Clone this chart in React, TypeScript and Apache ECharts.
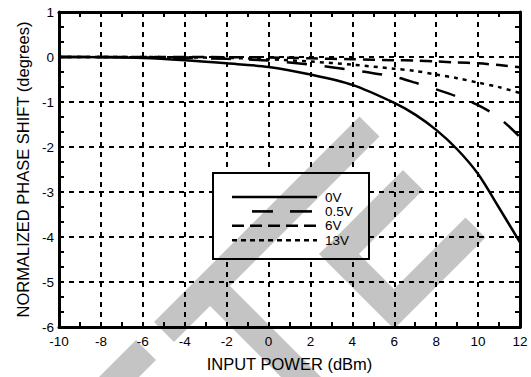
import React, { useEffect, useRef } from 'react';
import * as echarts from 'echarts';

// ---- data ----
const inputPower = [-10, -8, -6, -4, -2, 0, 2, 4, 6, 7, 8, 9, 10, 11, 12];
const shift0V = [0, -0.005, -0.02, -0.07, -0.14, -0.22, -0.39, -0.62, -1.02, -1.28, -1.62, -2.05, -2.6, -3.35, -4.12];
const shift05V = [0, 0, -0.01, -0.02, -0.04, -0.08, -0.17, -0.29, -0.44, -0.57, -0.72, -0.88, -1.07, -1.35, -1.78];
const shift6V = [0, 0, 0, 0, -0.005, -0.01, -0.03, -0.05, -0.07, -0.08, -0.1, -0.12, -0.14, -0.18, -0.23];
const shift13V = [0, 0, 0, -0.01, -0.02, -0.05, -0.1, -0.17, -0.26, -0.31, -0.39, -0.47, -0.57, -0.67, -0.8];
const seriesNames = ['0V', '0.5V', '6V', '13V'];
const seriesValues = [shift0V, shift05V, shift6V, shift13V];

const FONT = "'Liberation Sans', Arial, Helvetica, sans-serif";
const dashes: (number[] | 'solid')[] = ['solid', [20, 18], [12, 7], [4, 5]];

export default function App() {
  const ref = useRef<HTMLDivElement>(null);
  useEffect(() => {
    if (!ref.current) return;
    const chart = echarts.init(ref.current, null, { renderer: 'svg' });

    const tickStyle = { color: '#000', width: 2 };
    const axisLine = { show: true, onZero: false, lineStyle: { color: '#000', width: 3 } };
    const gridLine = { show: true, lineStyle: { color: '#000', width: 2, type: [5, 5] } };

    const xBase = {
      type: 'value', min: -10, max: 12, interval: 2,
      axisLine,
      axisTick: { show: true, inside: true, length: 5, lineStyle: tickStyle },
      minorTick: { show: true, splitNumber: 2, length: 5, lineStyle: tickStyle },
    };
    const yBase = {
      type: 'value', min: -6, max: 1, interval: 1,
      axisLine,
      axisTick: { show: true, inside: true, length: 5, lineStyle: tickStyle },
      minorTick: { show: true, splitNumber: 3, length: 5, lineStyle: tickStyle },
    };

    // legend (drawn as graphic, to match dash layout)
    const lx0 = 232, lx1 = 317, ly0 = 197, lstep = 14.4;
    const legendChildren: any[] = [
      { type: 'rect', z: 50, shape: { x: 213, y: 173, width: 156, height: 86 }, style: { fill: '#fff', stroke: '#000', lineWidth: 2 } },
    ];
    seriesNames.forEach((name, i) => {
      const y = ly0 + i * lstep;
      if (i === 1) {
        legendChildren.push({ type: 'line', z: 51, shape: { x1: 252, y1: y, x2: 273, y2: y }, style: { stroke: '#000', lineWidth: 2.6 } });
        legendChildren.push({ type: 'line', z: 51, shape: { x1: 290, y1: y, x2: 312, y2: y }, style: { stroke: '#000', lineWidth: 2.6 } });
      } else {
        const d = dashes[i];
        legendChildren.push({
          type: 'line', z: 51, shape: { x1: lx0, y1: y, x2: lx1, y2: y },
          style: { stroke: '#000', lineWidth: 2.6, lineDash: d === 'solid' ? null : (i === 2 ? [12, 6] : [5, 4]) },
        });
      }
      legendChildren.push({
        type: 'text', z: 52, x: 325, y,
        style: { text: name, fill: '#000', font: `13.5px ${FONT}`, verticalAlign: 'middle', align: 'left' },
      });
    });

    // watermark (multiply-like translucent black)
    const wm = { fill: '#000', opacity: 0.232 };
    const watermark = [
      { type: 'polygon', z: 100, silent: true, shape: { points: [[99, 377], [136, 340], [156, 360], [139, 377]] }, style: wm },
      { type: 'polygon', z: 100, silent: true, shape: { points: [[154, 322], [359.5, 116.5], [379.5, 136.5], [230, 286], [321, 377], [281, 377], [210, 306], [174, 342]] }, style: wm },
      { type: 'polygon', z: 100, silent: true, shape: { points: [[403, 170], [423, 190], [359, 254], [394, 289], [465.5, 217.5], [485.5, 237.5], [394, 329], [319, 254]] }, style: wm },
    ];

    const option: any = {
      animation: false,
      backgroundColor: '#fff',
      grid: { left: 59, right: 11, top: 12, bottom: 50, outerBoundsMode: 'none' },
      xAxis: [
        {
          ...xBase, position: 'bottom',
          name: 'INPUT POWER (dBm)', nameLocation: 'middle', nameGap: 28,
          nameTextStyle: { color: '#000', fontSize: 16.5, fontFamily: FONT },
          axisLabel: { color: '#000', fontSize: 13.5, fontFamily: FONT, margin: 7, showMinLabel: true, showMaxLabel: true },
          splitLine: gridLine,
        },
        {
          ...xBase, position: 'top', axisLabel: { show: false }, splitLine: { show: false },
        },
      ],
      yAxis: [
        {
          ...yBase, position: 'left',
          name: 'NORMALIZED PHASE SHIFT (degrees)', nameLocation: 'middle', nameGap: 27, nameRotate: 90,
          nameTextStyle: { color: '#000', fontSize: 16.5, fontFamily: FONT },
          axisLabel: { color: '#000', fontSize: 13.5, fontFamily: FONT, margin: 5, showMinLabel: true, showMaxLabel: true },
          splitLine: gridLine,
        },
        {
          ...yBase, position: 'right', axisLabel: { show: false }, splitLine: { show: false },
        },
      ],
      series: seriesNames.map((name, i) => ({
        name, type: 'line', xAxisIndex: 0, yAxisIndex: 0,
        data: inputPower.map((x, k) => [x, seriesValues[i][k]]),
        smooth: 0.3, symbol: 'none', showSymbol: false, silent: true, z: 3,
        lineStyle: { color: '#000', width: 2.5, type: dashes[i] },
      })),
      graphic: [...legendChildren, ...watermark],
    };
    chart.setOption(option);
    return () => chart.dispose();
  }, []);
  return <div ref={ref} style={{ position: 'fixed', left: 0, top: 0, width: 531, height: 377, background: '#fff' }} />;
}
